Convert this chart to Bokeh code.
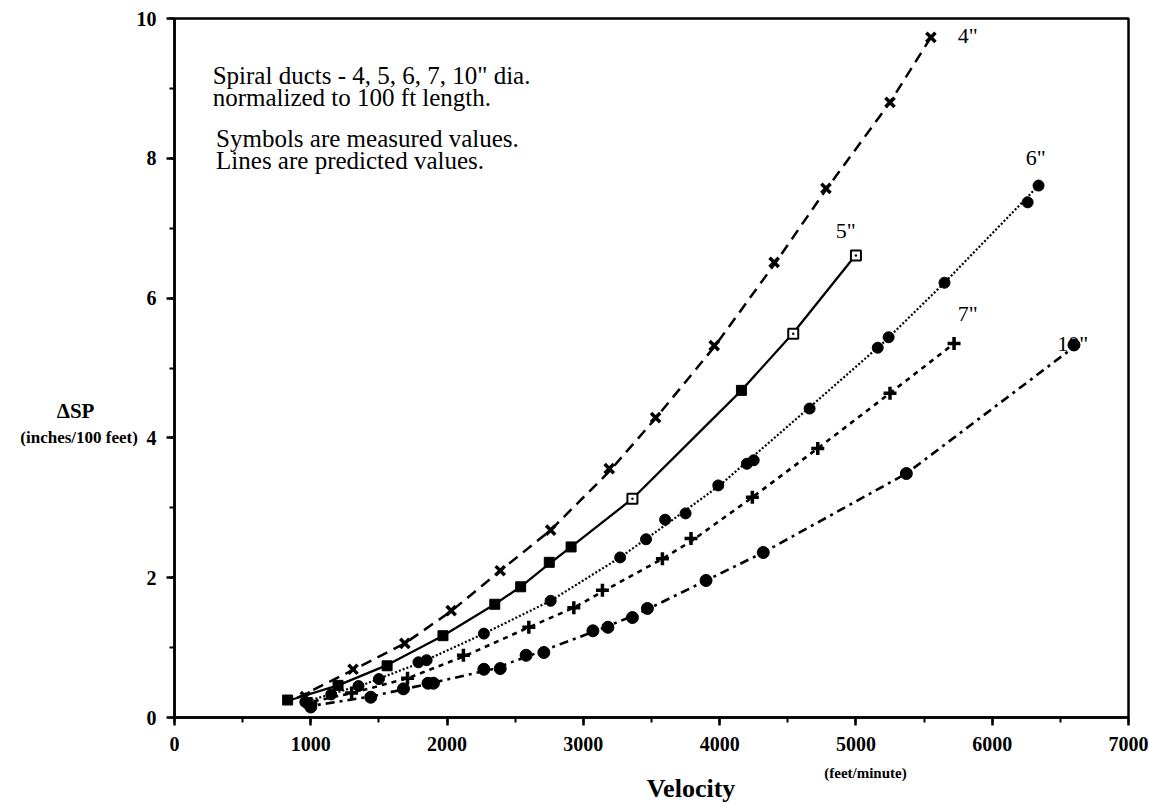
from bokeh.plotting import figure
from bokeh.models import Label, Range1d, FixedTicker, LinearAxis, BoxAnnotation
from bokeh.embed import file_html
from bokeh.resources import INLINE

# ---- data ----
# predicted lines
line4_x = [900, 1310, 1690, 2030, 2390, 2760, 3190, 3530, 3960, 4400, 4780, 5250, 5550]
line4_y = [0.28, 0.68, 1.06, 1.52, 2.10, 2.68, 3.52, 4.28, 5.30, 6.48, 7.55, 8.80, 9.73]
line5_x = [850, 1200, 1560, 1970, 2350, 2540, 2750, 2910, 3360, 4160, 4540, 5000]
line5_y = [0.25, 0.46, 0.75, 1.17, 1.62, 1.87, 2.20, 2.44, 3.13, 4.68, 5.50, 6.62]
line6_x = [950, 1400, 1800, 2270, 2760, 3270, 3600, 4000, 4650, 5200, 5650, 6340]
line6_y = [0.22, 0.48, 0.78, 1.20, 1.67, 2.29, 2.75, 3.32, 4.42, 5.36, 6.22, 7.61]
line7_x = [950, 1300, 1710, 2130, 2600, 2930, 3140, 3580, 3790, 4240, 4720, 5250, 5720]
line7_y = [0.20, 0.35, 0.56, 0.88, 1.29, 1.57, 1.80, 2.27, 2.52, 3.15, 3.85, 4.64, 5.35]
line10_x = [950, 1440, 1880, 2330, 2640, 3120, 3420, 3900, 4320, 5370, 6600]
line10_y = [0.15, 0.30, 0.49, 0.69, 0.91, 1.26, 1.50, 1.96, 2.36, 3.49, 5.30]

# measured symbols
m4_x = [960, 1310, 1690, 2030, 2390, 2760, 3190, 3530, 3960, 4400, 4780, 5250, 5550]
m4_y = [0.30, 0.69, 1.06, 1.53, 2.10, 2.68, 3.56, 4.29, 5.32, 6.51, 7.57, 8.80, 9.73]
m5_x = [830, 1200, 1560, 1970, 2350, 2540, 2750, 2910, 4160]
m5_y = [0.25, 0.46, 0.74, 1.17, 1.62, 1.87, 2.22, 2.44, 4.68]
m5o_x = [3360, 4540, 5000]
m5o_y = [3.13, 5.49, 6.61]
m6_x = [960, 1150, 1350, 1500, 1790, 1850, 2270, 2760, 3270, 3460, 3600, 3750, 3990, 4200, 4250, 4660, 5160, 5240, 5650, 6260, 6340]
m6_y = [0.22, 0.33, 0.45, 0.55, 0.79, 0.82, 1.20, 1.67, 2.29, 2.55, 2.83, 2.92, 3.32, 3.63, 3.68, 4.42, 5.29, 5.44, 6.22, 7.37, 7.61]
m7_x = [1000, 1300, 1710, 2120, 2600, 2930, 3140, 3580, 3790, 4240, 4720, 5250, 5720]
m7_y = [0.20, 0.35, 0.56, 0.89, 1.29, 1.57, 1.82, 2.27, 2.56, 3.15, 3.85, 4.64, 5.35]
m10_x = [1000, 1440, 1680, 1860, 1900, 2270, 2390, 2580, 2710, 3070, 3180, 3360, 3470, 3900, 4320, 5370, 6600]
m10_y = [0.15, 0.29, 0.41, 0.49, 0.49, 0.69, 0.70, 0.89, 0.93, 1.24, 1.29, 1.43, 1.56, 1.96, 2.36, 3.49, 5.33]

x_ticks = [0, 1000, 2000, 3000, 4000, 5000, 6000, 7000]
x_minor = [0, 500, 1000, 1500, 2000, 2500, 3000, 3500, 4000, 4500, 5000, 5500, 6000, 6500, 7000]
y_ticks = [0, 2, 4, 6, 8, 10]
y_minor = [0, 1, 2, 3, 4, 5, 6, 7, 8, 9, 10]
X_MIN, X_MAX, Y_MIN, Y_MAX = 0, 7000, 0, 10

SERIF = "Liberation Serif"

# layout geometry (pixels): plot box occupies x 174..1128, y 18..717 of a 1149x805 canvas
W, H = 1149, 805
L, R, T, B = 174, 21, 18, 88
xs = (X_MAX - X_MIN) / (W - L - R)
ys = (Y_MAX - Y_MIN) / (H - T - B)

p = figure(width=W, height=H, output_backend="svg", toolbar_location=None,
           x_range=Range1d(X_MIN - L * xs, X_MAX + R * xs),
           y_range=Range1d(Y_MIN - B * ys, Y_MAX + T * ys),
           x_axis_location=None, y_axis_location=None, min_border=0)
p.background_fill_color = "white"
p.border_fill_color = "white"
p.outline_line_color = None
p.grid.visible = False

xaxis = LinearAxis(fixed_location=Y_MIN, bounds=(X_MIN, X_MAX))
yaxis = LinearAxis(fixed_location=X_MIN, bounds=(Y_MIN, Y_MAX))
for ax in (xaxis, yaxis):
    ax.axis_line_width = 2.5
    ax.axis_line_color = "black"
    ax.major_tick_line_width = 2.5
    ax.minor_tick_line_width = 2
    ax.major_tick_in = 0
    ax.minor_tick_in = 0
    ax.major_tick_out = 8
    ax.minor_tick_out = 5
    ax.major_label_text_font = SERIF
    ax.major_label_text_font_style = "bold"
    ax.major_label_text_font_size = "20px"
    ax.major_label_text_color = "black"
xaxis.ticker = FixedTicker(ticks=x_ticks, minor_ticks=x_minor)
yaxis.ticker = FixedTicker(ticks=y_ticks, minor_ticks=y_minor)
xaxis.major_label_standoff = 11
yaxis.major_label_standoff = 10
p.add_layout(xaxis, "below")
p.add_layout(yaxis, "left")

# plot box
p.add_layout(BoxAnnotation(left=X_MIN, right=X_MAX, bottom=Y_MIN, top=Y_MAX,
                           fill_alpha=0, line_color="black", line_alpha=1.0, line_width=2.5))

# lines (predicted values)
p.line(line4_x, line4_y, line_color="black", line_width=2.5, line_dash="11 7")
p.line(line5_x, line5_y, line_color="black", line_width=2.3)
p.line(line6_x, line6_y, line_color="black", line_width=2.2, line_dash="2 2")
p.line(line7_x, line7_y, line_color="black", line_width=2.6, line_dash="5 5")
p.line(line10_x, line10_y, line_color="black", line_width=2.6, line_dash="9 5 3 5")

# symbols (measured values)
p.scatter(m4_x, m4_y, marker="x", size=13, line_color="black", line_width=3.5)
p.scatter(m5_x, m5_y, marker="square", size=10, fill_color="black", line_color="black")
p.scatter(m5o_x, m5o_y, marker="square_dot", size=10, fill_color="white", line_color="black", line_width=2)
p.scatter(m6_x, m6_y, marker="circle", size=11, fill_color="black", line_color="black")
p.scatter(m7_x, m7_y, marker="cross", size=13, line_color="black", line_width=3.5)
p.scatter(m10_x, m10_y, marker="circle", size=12, fill_color="black", line_color="black")

def lab(x, y, text, size, style="normal", align="left", baseline="middle"):
    p.add_layout(Label(x=x, y=y, text=text, text_font=SERIF, text_font_size=size,
                       text_font_style=style, text_align=align, text_baseline=baseline,
                       text_color="black"))

# annotation text
lab(280, 9.18, 'Spiral ducts - 4, 5, 6, 7, 10" dia.', "25px")
lab(280, 8.87, "normalized to 100 ft length.", "25px")
lab(305, 8.28, "Symbols are measured values.", "25px")
lab(305, 7.97, "Lines are predicted values.", "25px")

# curve labels
lab(5820, 9.76, '4"', "22px", align="center")
lab(4925, 6.97, '5"', "22px", align="center")
lab(6320, 8.01, '6"', "22px", align="center")
lab(5820, 5.78, '7"', "22px", align="center")
lab(6590, 5.35, '10"', "22px", align="center")

# axis titles
lab(3790, -1.01, "Velocity", "26px", style="bold", align="center")
lab(5070, -0.80, "(feet/minute)", "15px", style="bold", align="center")
lab(-726, 4.39, "\u0394SP", "21px", style="bold", align="center")
lab(-700, 4.00, "(inches/100 feet)", "17px", style="bold", align="center")

open("out.html", "w").write(file_html(p, INLINE))
